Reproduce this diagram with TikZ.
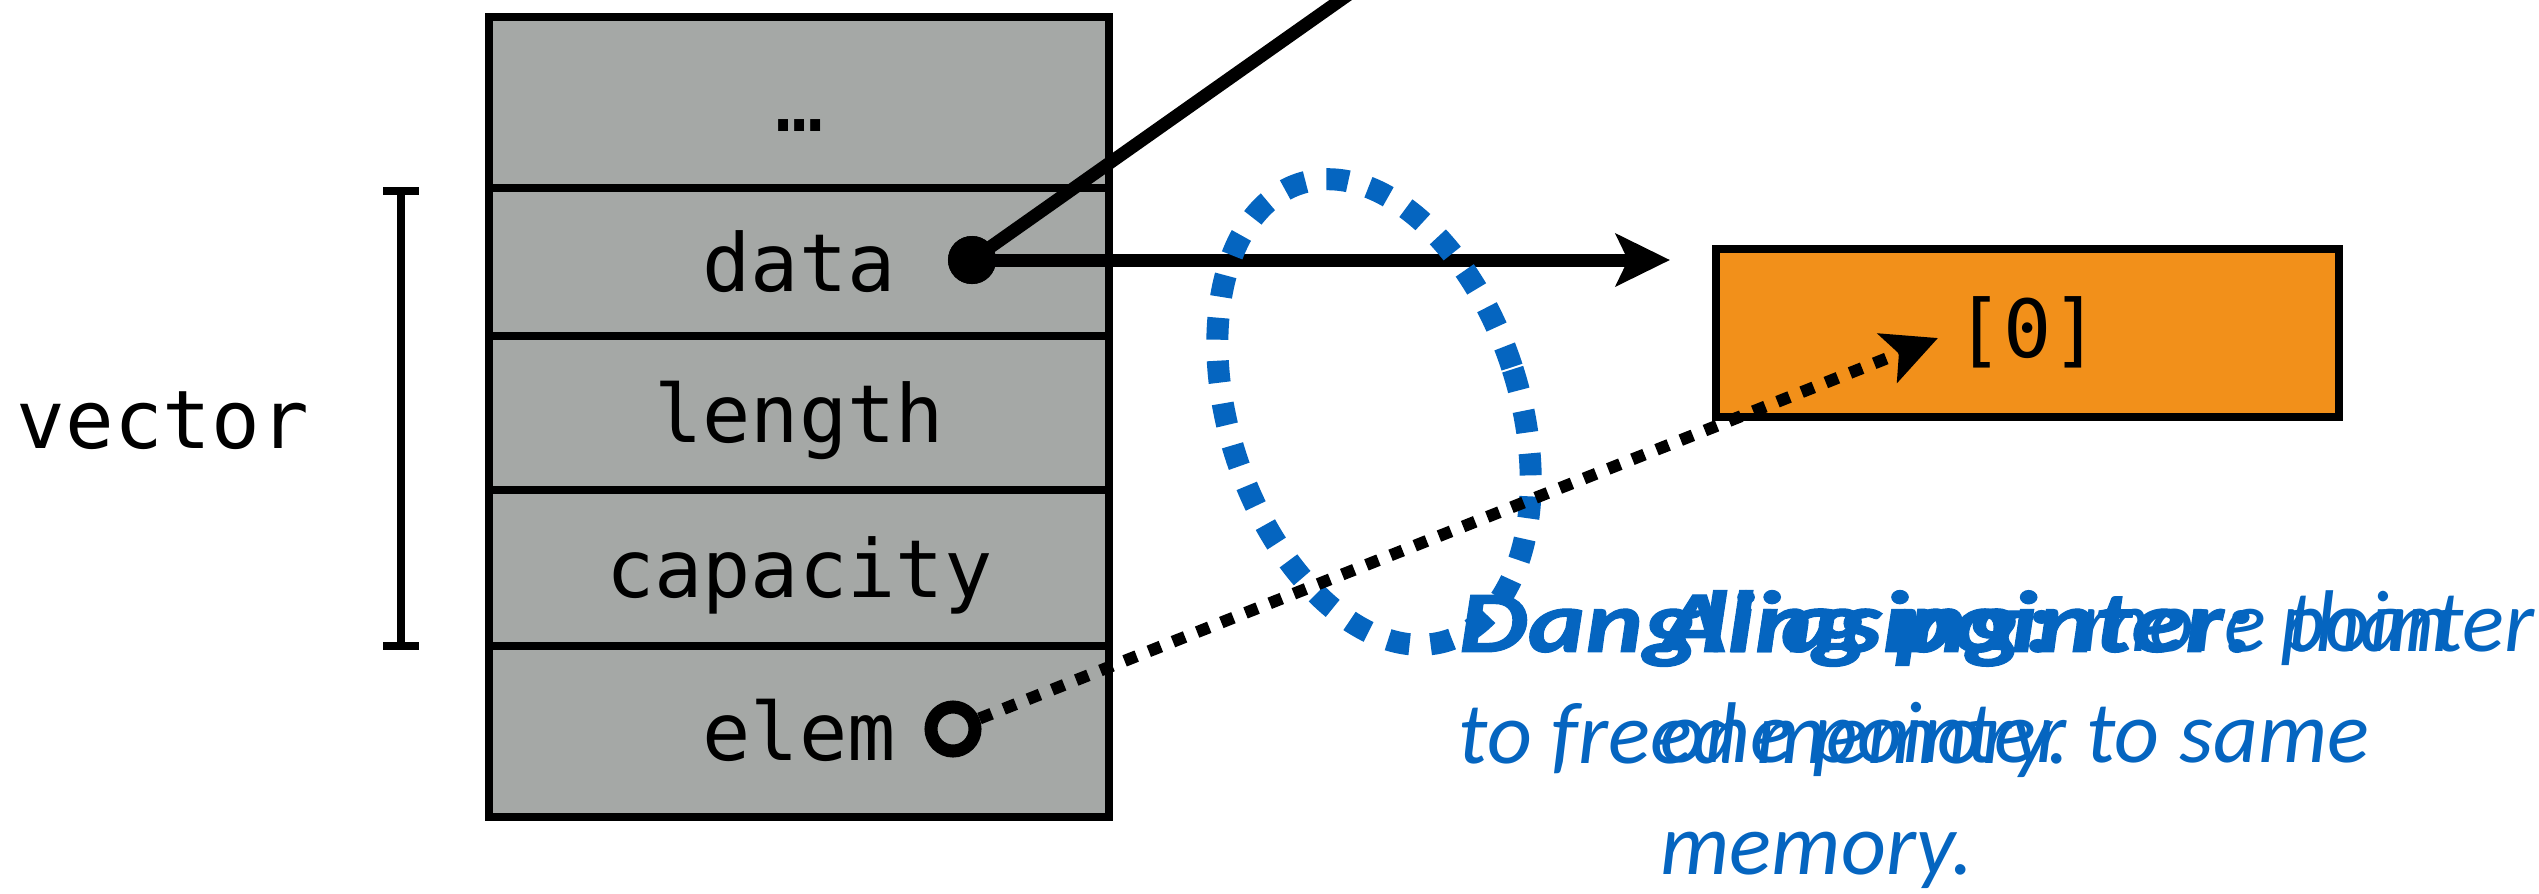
\documentclass[tikz,border=0pt]{standalone}
\usepackage{fontspec}
\setmonofont{DejaVu Sans Mono}
\newfontfamily\gillfont[BoldItalicFeatures={FakeStretch=1.25, FakeBold=1.2}]{Carlito}
\usetikzlibrary{arrows.meta}
\definecolor{cellgray}{HTML}{A5A8A6}
\definecolor{arrorange}{HTML}{F2901A}
\definecolor{noteblue}{HTML}{0565C0}
\tikzset{
  cell/.style={draw=black, fill=cellgray, line width=0.08cm, minimum width=6.195cm,
    inner sep=0pt, text height=0.58cm, text depth=0cm,
    font=\ttfamily\fontsize{22.8}{24}\selectfont},
  heavyline/.style={line width=0.13cm, black},
  bigtip/.style={-{Stealth[length=0.54cm, width=0.52cm, inset=0.12cm]}},
  dotline/.style={line width=0.12cm, black, dash pattern=on 0.13cm off 0.13cm},
  note/.style={text=noteblue, font=\gillfont\itshape\fontsize{24.9}{31.6}\selectfont,
    align=left, inner sep=0pt, anchor=base west},
}
\begin{document}
\begin{tikzpicture}[x=0.01cm, y=-0.01cm]
\useasboundingbox (0,0) rectangle (2539,893);
\clip (0,0) rectangle (2539,893);

% vector label and bracket
\node[font=\ttfamily\fontsize{23}{24}\selectfont, anchor=base, inner sep=0pt] (vec) at (163,448) {vector};
\draw[line width=0.08cm] (383,191) -- (419,191) (401,191) -- (401,646) (383,646) -- (419,646);

% stack cells
\node[cell, minimum height=1.71cm] (r1) at (799.25,102.5) {…};
\node[cell, minimum height=1.48cm] (r2) at (799.25,262) {data};
\node[cell, minimum height=1.54cm] (r3) at (799.25,413) {length};
\node[cell, minimum height=1.56cm] (r4) at (799.25,568) {capacity};
\node[cell, minimum height=1.71cm] (r5) at (799.25,731.5) {elem};

% array element box
\node[draw=black, fill=arrorange, line width=0.08cm, minimum width=6.225cm, minimum height=1.675cm,
  inner sep=0pt, text height=0.48cm, text depth=0cm, font=\ttfamily\fontsize{22.8}{24}\selectfont]
  (arr) at (2027.75,333.25) {[0]};

% pointer dots
\node[circle, fill=black, minimum size=0.48cm, inner sep=0pt] (datadot) at (972,260) {};
\node[circle, draw=black, line width=0.13cm, minimum size=0.44cm, inner sep=0pt] (elemdot) at (953,729) {};

\coordinate (topend) at (1369,-20);
\coordinate (datatip) at (1670,260);
\coordinate (elemtip) at (1938,338);
\coordinate (ell) at (1374,412);

\draw[heavyline] (datadot.center) -- (topend);
\draw[heavyline, bigtip] (datadot.center) -- (datatip);
\node[circle, fill=black, minimum size=0.48cm, inner sep=0pt] at (datadot) {};

% blue dashed ellipse
\draw[noteblue, line width=0.22cm, dash pattern=on 0.22cm off 0.21cm, rotate around={18:(ell)}]
  (ell) ellipse [x radius=1.45cm, y radius=2.4cm];

% dotted pointer from elem
\draw[dotline, bigtip] (elemdot) -- (elemtip);

% notes (overlapping as in the original); anchor is the baseline of the last line
\node[note] (dangling) at (1458,763) {\textbf{Dangling pointer:} pointer\\to freed memory.};
\node[note] (aliasing) at (1660,874) {\textbf{Aliasing:} more than\\one pointer to same\\memory.};
\end{tikzpicture}
\end{document}
